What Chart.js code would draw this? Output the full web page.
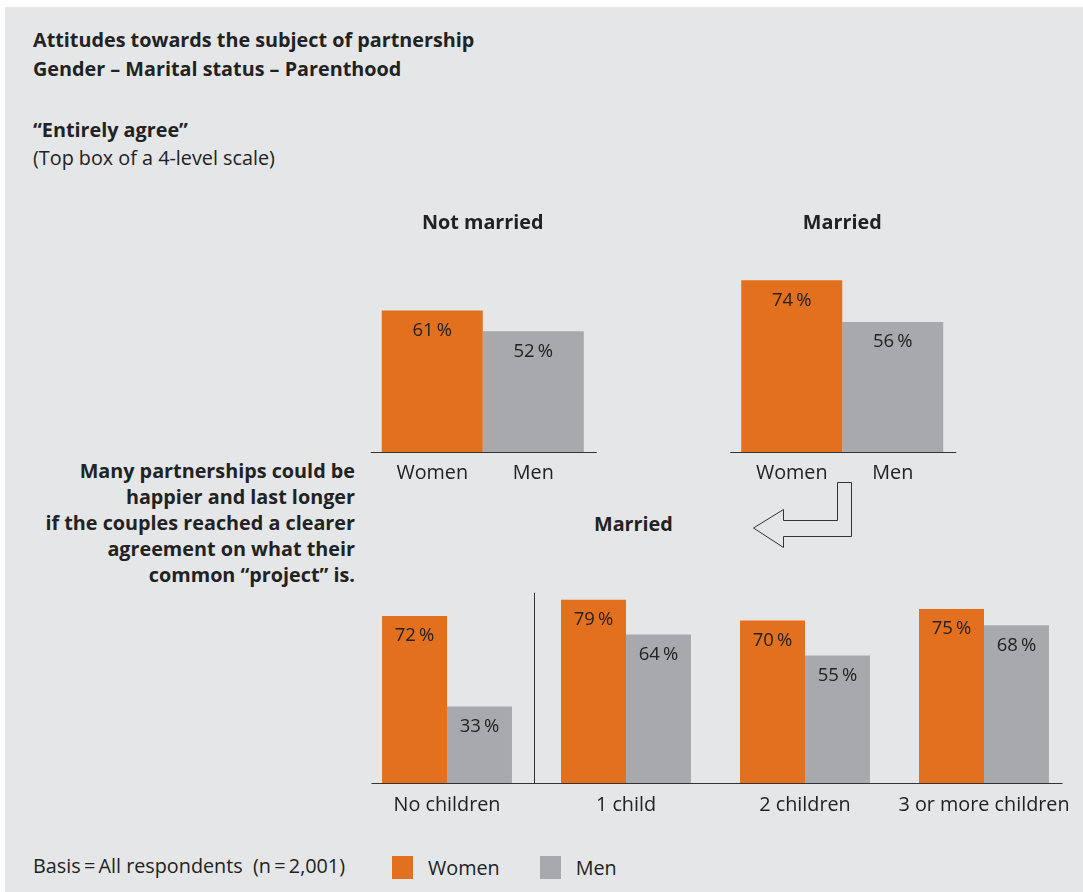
<!DOCTYPE html>
<html>
<head>
<meta charset="utf-8">
<script src="https://cdn.jsdelivr.net/npm/chart.js@4/dist/chart.umd.min.js"></script>
<style>
  html, body { margin: 0; padding: 0; background: #fff; }
  body { width: 1083px; height: 892px; position: relative; overflow: hidden;
         font-family: "Open Sans", "Noto Sans", sans-serif; color: #222; }
  #panel { position: absolute; left: 5px; top: 7px; right: 0; bottom: 0; background: #e5e6e8; }
  canvas { position: absolute; left: 0; top: 0; }
  .t { position: absolute; font-size: 19.8px; white-space: nowrap; line-height: 26px; }
  .b { font-weight: 700; }
  #note { right: 728px; top: 458px; text-align: right; }
  #legend { position: absolute; left: 392px; top: 854px; display: flex; align-items: center; font-size: 19.8px; }
  #legend span.box { display: inline-block; width: 21px; height: 23px; margin-right: 15px; }
  #legend span.lbl { margin-right: 40px; }
</style>
</head>
<body>
<div id="panel"></div>
<div class="t b" style="left:33px; top:27px;">Attitudes towards the subject of partnership</div>
<div class="t b" style="left:33px; top:56px;">Gender – Marital status – Parenthood</div>
<div class="t b" style="left:33px; top:117px;">“Entirely agree”</div>
<div class="t" style="left:33px; top:145px;">(Top box of a 4-level scale)</div>
<div class="t b" id="note">Many partnerships could be<br>happier and last longer<br>if the couples reached a clearer<br>agreement on what their<br>common “project” is.</div>
<div class="t b" style="left:594px; top:511px;">Married</div>
<div class="t" style="left:33px; top:853px;">Basis&thinsp;=&thinsp;All respondents&nbsp; (n&thinsp;=&thinsp;2,001)</div>
<div id="legend"></div>

<svg style="position:absolute; left:0; top:0;" width="1083" height="892">
  <path d="M837.5 482.5 H851.5 V536.5 H783.5 V547.5 L753.5 528 L783.5 509.5 V520.5 H837.5 Z"
        fill="#e5e6e8" stroke="#333" stroke-width="1"/>
</svg>

<canvas id="top" width="1083" height="892"></canvas>
<canvas id="bottom" width="1083" height="892"></canvas>

<script>
const seriesNames = ['Women', 'Men'];
const seriesColors = ['#e2701f', '#a8a9ad'];

// marital status
const maritalGroups = ['Not married', 'Married'];
const maritalWomen = [61, 74];
const maritalMen = [52, 56];

// married, by number of children
const childGroups = ['No children', '1 child', '2 children', '3 or more children'];
const childWomen = [72, 79, 70, 75];
const childMen = [33, 64, 55, 68];

const FONT = '"Open Sans", "Noto Sans", sans-serif';
const TEXT = '#222';

// legend
const legend = document.getElementById('legend');
seriesNames.forEach((name, i) => {
  legend.innerHTML += `<span class="box" style="background:${seriesColors[i]}"></span><span class="lbl">${name}</span>`;
});

function pct(v) { return v + '\u2009%'; }

// value labels inside the top of each bar
const valueLabels = {
  id: 'valueLabels',
  afterDatasetsDraw(chart) {
    const ctx = chart.ctx;
    ctx.save();
    ctx.font = '18.5px ' + FONT;
    ctx.fillStyle = TEXT;
    ctx.textAlign = 'center';
    ctx.textBaseline = 'middle';
    chart.data.datasets.forEach((ds, di) => {
      chart.getDatasetMeta(di).data.forEach((bar, i) => {
        ctx.fillText(pct(ds.data[i]), bar.x, bar.y + 20);
      });
    });
    ctx.restore();
  }
};

// split baselines, group titles and Women/Men labels for the marital chart
const maritalDecor = {
  id: 'maritalDecor',
  afterDatasetsDraw(chart) {
    const ctx = chart.ctx;
    const x = chart.scales.x, y = chart.scales.y;
    const base = y.getPixelForValue(0);
    ctx.save();
    ctx.strokeStyle = '#333';
    ctx.lineWidth = 1;
    ctx.fillStyle = TEXT;
    ctx.textAlign = 'center';
    ctx.textBaseline = 'middle';
    maritalGroups.forEach((g, i) => {
      const cx = x.getPixelForValue(i);
      ctx.beginPath();
      ctx.moveTo(cx - 112, Math.round(base) + 0.5);
      ctx.lineTo(cx + 114, Math.round(base) + 0.5);
      ctx.stroke();
      ctx.font = 'bold 19.8px ' + FONT;
      ctx.fillText(g, cx, 223);
    });
    ctx.font = '19.8px ' + FONT;
    chart.data.datasets.forEach((ds, di) => {
      chart.getDatasetMeta(di).data.forEach(bar => {
        ctx.fillText(ds.label, bar.x, base + 21);
      });
    });
    ctx.restore();
  }
};

// baseline and separator for the children chart
const childDecor = {
  id: 'childDecor',
  afterDatasetsDraw(chart) {
    const ctx = chart.ctx;
    const x = chart.scales.x, y = chart.scales.y;
    const base = Math.round(y.getPixelForValue(0)) + 0.5;
    ctx.save();
    ctx.strokeStyle = '#333';
    ctx.lineWidth = 1;
    ctx.beginPath();
    ctx.moveTo(chart.chartArea.left + 14, base);
    ctx.lineTo(chart.chartArea.right - 11, base);
    ctx.stroke();
    const sx = Math.round((x.getPixelForValue(0) + x.getPixelForValue(1)) / 2) - 3 + 0.5;
    ctx.beginPath();
    ctx.moveTo(sx, base);
    ctx.lineTo(sx, y.getPixelForValue(82));
    ctx.stroke();
    ctx.restore();
  }
};

function datasets(women, men, catPct) {
  return [women, men].map((data, i) => ({
    label: seriesNames[i],
    data: data,
    backgroundColor: seriesColors[i],
    borderWidth: 0,
    categoryPercentage: catPct,
    barPercentage: 1
  }));
}

Chart.defaults.font.family = FONT;
Chart.defaults.color = TEXT;

new Chart(document.getElementById('top'), {
  type: 'bar',
  data: { labels: maritalGroups, datasets: datasets(maritalWomen, maritalMen, 0.562) },
  options: {
    responsive: false,
    animation: false,
    layout: { padding: { left: 303, right: 61, top: 220, bottom: 440 } },
    plugins: { legend: { display: false }, tooltip: { enabled: false } },
    scales: {
      x: { display: false },
      y: { display: false, min: 0, max: 100 }
    }
  },
  plugins: [valueLabels, maritalDecor]
});

new Chart(document.getElementById('bottom'), {
  type: 'bar',
  data: { labels: childGroups, datasets: datasets(childWomen, childMen, 0.726) },
  options: {
    responsive: false,
    animation: false,
    layout: { padding: { left: 357.5, right: 9.5, top: 551, bottom: 0 } },
    plugins: { legend: { display: false }, tooltip: { enabled: false } },
    scales: {
      x: {
        grid: { display: false, drawTicks: false },
        border: { display: false },
        ticks: { font: { size: 19.8 }, color: TEXT, padding: 10, maxRotation: 0 },
        afterFit(scale) { scale.height = 109; }
      },
      y: { display: false, min: 0, max: 100 }
    }
  },
  plugins: [valueLabels, childDecor]
});
</script>
</body>
</html>
